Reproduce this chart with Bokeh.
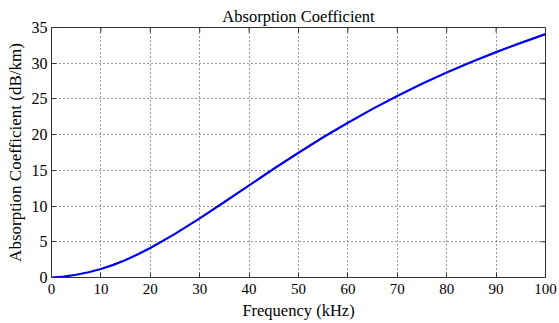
from bokeh.plotting import figure
from bokeh.models import LinearAxis, FixedTicker, Range1d
from bokeh.embed import file_html
from bokeh.resources import INLINE

freq_khz = [0, 2.5, 5, 7.5, 10, 12.5, 15, 17.5, 20, 25, 30, 35, 40, 45, 50, 55, 60, 65, 70, 75, 80, 85, 90, 95, 100]
absorption_db_km = [0.00, 0.13, 0.38, 0.73, 1.19, 1.77, 2.46, 3.25, 4.13, 6.11, 8.28, 10.57, 12.90, 15.22, 17.47,
                    19.63, 21.67, 23.61, 25.42, 27.11, 28.69, 30.17, 31.55, 32.85, 34.07]
x_ticks = [0, 10, 20, 30, 40, 50, 60, 70, 80, 90, 100]
y_ticks = [0, 5, 10, 15, 20, 25, 30, 35]

FONT = "Liberation Serif"
X_MIN, X_MAX, Y_MIN, Y_MAX = 0, 100, 0, 35

p = figure(width=559, height=323, output_backend="svg", toolbar_location=None,
           x_range=Range1d(X_MIN, X_MAX), y_range=Range1d(Y_MIN, Y_MAX),
           x_axis_location=None, y_axis_location=None,
           min_border_left=51, min_border_right=14, min_border_top=27, min_border_bottom=46)
p.frame_width = 494
p.frame_height = 250
p.background_fill_color = "white"
p.border_fill_color = "white"
p.outline_line_color = "#333333"
p.outline_line_width = 1

p.title.text = "Absorption Coefficient"
p.title.align = "center"
p.title.text_font = FONT
p.title.text_font_size = "16.5px"
p.title.text_font_style = "normal"
p.title.text_color = "black"
p.title.standoff = 3

def style_axis(ax):
    ax.major_tick_in = 5
    ax.major_tick_out = 0
    ax.minor_tick_line_color = None
    ax.axis_line_color = "#333333"
    ax.major_tick_line_color = "#333333"
    ax.major_label_text_font = FONT
    ax.major_label_text_color = "black"
    ax.axis_label_text_font = FONT
    ax.axis_label_text_font_style = "normal"
    ax.axis_label_text_color = "black"

xb = LinearAxis(ticker=FixedTicker(ticks=x_ticks), axis_label="Frequency (kHz)")
style_axis(xb)
xb.major_label_text_font_size = "15px"
xb.axis_label_text_font_size = "16.5px"
xb.major_label_standoff = 6
xb.axis_label_standoff = 4
p.add_layout(xb, "below")

yl = LinearAxis(ticker=FixedTicker(ticks=y_ticks), axis_label="Absorption Coefficient (dB/km)")
style_axis(yl)
yl.major_label_text_font_size = "16px"
yl.axis_label_text_font_size = "17px"
yl.major_label_standoff = 4
yl.axis_label_standoff = 4
p.add_layout(yl, "left")

# inward ticks on the top and right edges of the box
tick_len_x = 5 * (X_MAX - X_MIN) / 494
tick_len_y = 5 * (Y_MAX - Y_MIN) / 250
p.segment(x0=x_ticks, y0=[Y_MAX] * len(x_ticks), x1=x_ticks, y1=[Y_MAX - tick_len_y] * len(x_ticks),
          line_color="#333333", line_width=1)
p.segment(x0=[X_MAX] * len(y_ticks), y0=y_ticks, x1=[X_MAX - tick_len_x] * len(y_ticks), y1=y_ticks,
          line_color="#333333", line_width=1)

p.xgrid.ticker = FixedTicker(ticks=x_ticks)
p.ygrid.ticker = FixedTicker(ticks=y_ticks)
for g in (p.xgrid, p.ygrid):
    g.grid_line_color = "black"
    g.grid_line_dash = "1 3"
    g.grid_line_width = 1
    g.grid_line_alpha = 0.8

p.line(freq_khz, absorption_db_km, line_color="#0000ee", line_width=2.2)

open("out.html", "w").write(file_html(p, INLINE))
